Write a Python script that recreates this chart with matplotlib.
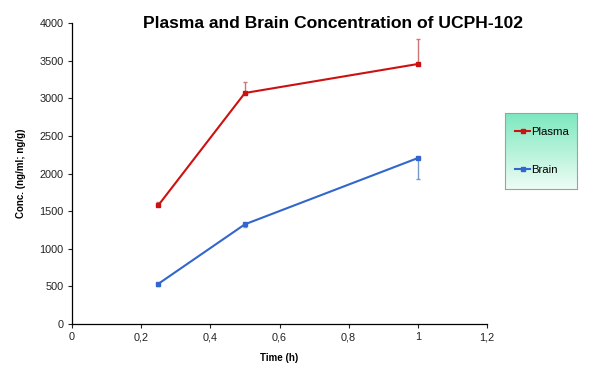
import numpy as np
import matplotlib
matplotlib.use("Agg")
import matplotlib.pyplot as plt

plt.rcParams['font.family'] = ['Liberation Sans', 'DejaVu Sans']

time = [0.25, 0.5, 1.0]
plasma = [1580, 3070, 3455]
plasma_err = [40, 140, 330]
brain = [535, 1325, 2205]
brain_err = [25, 40, 280]

xticks = [0, 0.2, 0.4, 0.6, 0.8, 1.0, 1.2]
xticklabels = ['0', '0,2', '0,4', '0,6', '0,8', '1', '1,2']
yticks = [0, 500, 1000, 1500, 2000, 2500, 3000, 3500, 4000]

W, H = 597, 387
fig = plt.figure(figsize=(W / 100, H / 100), dpi=100)
ax = fig.add_axes([72 / W, 1 - 324 / H, (487 - 72) / W, (324 - 23) / H])

red = '#cc1111'
blue = '#3366cc'

ep = ax.errorbar(time, plasma, yerr=[[0] * 3, plasma_err], color=red, ecolor='#cc7777',
                 elinewidth=1, capsize=1.5, lw=1.5, marker='s', ms=3.2, label='Plasma')
eb = ax.errorbar(time, brain, yerr=[brain_err, [0] * 3], color=blue, ecolor='#7799cc',
                 elinewidth=1, capsize=1.5, lw=1.5, marker='s', ms=3.2, label='Brain')

ax.set_xlim(0, 1.2)
ax.set_ylim(0, 4000)
ax.set_xticks(xticks)
ax.set_xticklabels(xticklabels)
ax.set_yticks(yticks)
for s in ['top', 'right']:
    ax.spines[s].set_visible(False)
for s in ['left', 'bottom']:
    ax.spines[s].set_linewidth(0.9)
ax.tick_params(axis='both', direction='out', length=3, width=0.8, labelsize=7.8,
               colors='#222222', pad=3)
ax.set_xlabel('Time (h)', fontsize=7, fontweight='bold', labelpad=8)
ax.set_ylabel('Conc. (ng/ml; ng/g)', fontsize=7, fontweight='bold', labelpad=10)

fig.text(333 / W, 1 - 24 / H, 'Plasma and Brain Concentration of UCPH-102',
         ha='center', va='center', fontsize=12.6, fontweight='bold')

# legend background with gradient
lx0, lx1, ly0, ly1 = 505, 577, 113, 189
lax = fig.add_axes([lx0 / W, 1 - ly1 / H, (lx1 - lx0) / W, (ly1 - ly0) / H])
top = np.array([0.49, 0.91, 0.75])
bot = np.array([0.93, 0.99, 0.96])
t = np.linspace(0, 1, 100)[:, None, None]
grad = top * (1 - t) + bot * t
grad = np.repeat(grad, 2, axis=1)
lax.imshow(grad, aspect='auto', extent=[0, 1, 0, 1])
lax.set_xticks([])
lax.set_yticks([])
for s in lax.spines.values():
    s.set_color('#a0a0a0')
    s.set_linewidth(0.8)

handles = [ep.lines[0], eb.lines[0]]
labels = ['Plasma', 'Brain']
leg = fig.legend(handles, labels, loc='center',
                 bbox_to_anchor=((lx0 + lx1) / 2 / W + 0.002, 1 - (ly0 + ly1) / 2 / H),
                 frameon=False, fontsize=8.2, labelspacing=2.5, handlelength=1.3,
                 handletextpad=0.1, markerscale=0.8)

fig.savefig('out.png', dpi=100)
